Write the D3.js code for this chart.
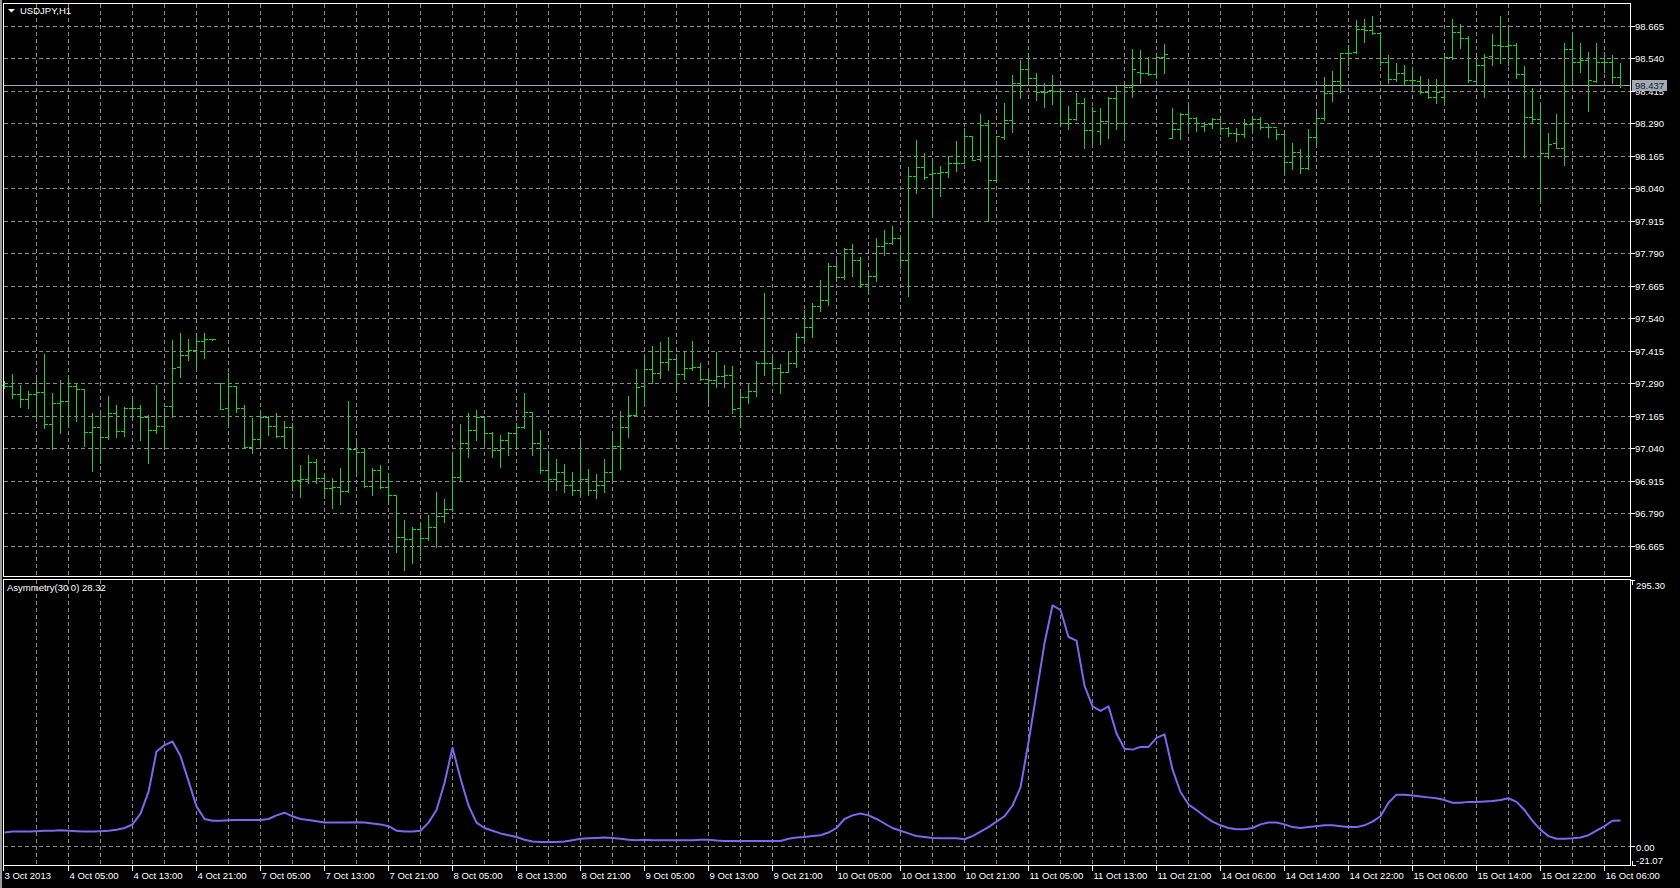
<!DOCTYPE html>
<html>
<head>
<meta charset="utf-8">
<script src="https://cdn.jsdelivr.net/npm/d3@7"></script>
<style>
  html, body { margin: 0; padding: 0; background: #000; overflow: hidden; }
  svg { display: block; }
  text { font-family: "Liberation Sans", Arial, sans-serif; font-size: 9.5px; fill: #fff; }
</style>
</head>
<body>
<svg id="chart"></svg>
<script>
// USDJPY H1 bars, 3 Oct 21:00 .. 16 Oct 08:00 (203 bars)
var opens = [97.285,97.281,97.249,97.228,97.248,97.257,97.134,97.216,97.223,97.278,
  97.267,97.102,97.120,97.085,97.175,97.107,97.194,97.194,97.162,97.111,
  97.126,97.203,97.354,97.398,97.418,97.452,97.459,97.293,97.194,97.280,
  97.194,97.043,97.075,97.159,97.126,97.087,97.123,96.918,96.921,96.989,
  96.925,96.886,96.890,96.877,97.036,97.027,96.893,96.957,96.890,96.861,
  96.698,96.690,96.729,96.694,96.736,96.780,96.805,96.931,97.059,97.111,
  97.159,97.098,97.034,97.072,97.100,97.121,97.180,97.059,96.957,96.920,
  96.950,96.900,96.880,96.920,96.880,96.900,96.950,97.050,97.123,97.168,
  97.280,97.344,97.329,97.373,97.382,97.326,97.348,97.352,97.305,97.303,
  97.318,97.322,97.194,97.236,97.262,97.367,97.367,97.348,97.335,97.370,
  97.467,97.505,97.587,97.611,97.741,97.700,97.805,97.764,97.672,97.703,
  97.818,97.829,97.848,97.764,98.087,98.123,98.095,98.098,98.104,98.139,
  98.136,98.241,98.152,98.284,98.072,98.236,98.305,98.444,98.498,98.463,
  98.412,98.418,98.416,98.293,98.309,98.369,98.264,98.259,98.300,98.389,
  98.293,98.429,98.489,98.483,98.479,98.547,98.233,98.269,98.327,98.310,
  98.280,98.288,98.306,98.271,98.255,98.250,98.288,98.306,98.278,98.275,
  98.250,98.143,98.182,98.118,98.237,98.310,98.409,98.455,98.560,98.566,
  98.652,98.650,98.637,98.528,98.460,98.483,98.457,98.455,98.412,98.393,
  98.390,98.544,98.643,98.618,98.455,98.515,98.550,98.592,98.588,98.592,
  98.480,98.316,98.306,98.175,98.216,98.195,98.575,98.528,98.534,98.455,
  98.528,98.528,98.470];
var highs = [97.300,97.326,97.284,97.261,97.305,97.403,97.252,97.303,97.321,97.293,
  97.267,97.175,97.181,97.241,97.205,97.200,97.236,97.207,97.168,97.284,
  97.194,97.457,97.482,97.459,97.480,97.482,97.460,97.293,97.328,97.280,
  97.205,97.155,97.181,97.164,97.175,97.145,97.139,96.976,97.014,96.998,
  96.946,96.925,96.963,97.222,97.066,97.040,96.963,96.976,96.946,96.861,
  96.764,96.736,96.752,96.784,96.870,96.844,97.021,97.134,97.177,97.187,
  97.164,97.104,97.091,97.104,97.136,97.252,97.181,97.111,97.030,97.000,
  96.980,96.950,97.066,96.960,96.940,97.000,97.100,97.184,97.241,97.344,
  97.395,97.434,97.448,97.467,97.389,97.412,97.454,97.367,97.341,97.412,
  97.361,97.357,97.254,97.290,97.376,97.639,97.386,97.364,97.412,97.482,
  97.572,97.600,97.687,97.752,97.764,97.809,97.826,97.777,97.720,97.848,
  97.880,97.895,97.852,98.123,98.228,98.175,98.149,98.126,98.164,98.223,
  98.271,98.241,98.328,98.303,98.241,98.367,98.476,98.534,98.553,98.485,
  98.444,98.476,98.428,98.357,98.408,98.386,98.352,98.348,98.391,98.434,
  98.434,98.575,98.573,98.547,98.550,98.596,98.348,98.332,98.357,98.314,
  98.297,98.310,98.310,98.275,98.271,98.306,98.314,98.314,98.288,98.268,
  98.250,98.214,98.191,98.268,98.332,98.470,98.493,98.562,98.592,98.688,
  98.691,98.703,98.643,98.553,98.521,98.515,98.502,98.473,98.460,98.460,
  98.550,98.691,98.673,98.627,98.550,98.557,98.634,98.703,98.662,98.598,
  98.511,98.425,98.365,98.252,98.327,98.601,98.637,98.601,98.566,98.601,
  98.566,98.553,98.524];
var lows = [97.270,97.232,97.200,97.196,97.143,97.117,97.036,97.100,97.123,97.143,
  97.050,96.954,96.985,97.075,97.085,97.087,97.152,97.072,96.985,97.100,
  97.036,97.162,97.316,97.380,97.354,97.389,97.458,97.190,97.130,97.181,
  97.040,97.021,97.053,97.091,97.085,97.046,96.882,96.854,96.905,96.905,
  96.848,96.809,96.826,96.870,96.944,96.890,96.861,96.886,96.832,96.640,
  96.570,96.600,96.630,96.687,96.660,96.758,96.800,96.918,97.008,97.072,
  97.057,97.005,96.967,97.014,97.036,97.117,97.014,96.944,96.890,96.880,
  96.870,96.860,96.860,96.860,96.850,96.870,96.920,96.960,97.085,97.164,
  97.207,97.290,97.309,97.341,97.267,97.305,97.341,97.303,97.216,97.275,
  97.277,97.175,97.123,97.216,97.241,97.322,97.284,97.254,97.335,97.354,
  97.454,97.469,97.570,97.591,97.685,97.690,97.703,97.659,97.636,97.685,
  97.784,97.826,97.732,97.626,98.021,98.075,97.937,98.011,98.085,98.108,
  98.136,98.149,98.146,97.916,98.069,98.232,98.258,98.386,98.437,98.380,
  98.354,98.364,98.280,98.267,98.305,98.194,98.211,98.211,98.233,98.269,
  98.237,98.391,98.444,98.477,98.464,98.485,98.233,98.229,98.268,98.259,
  98.262,98.271,98.250,98.242,98.224,98.237,98.262,98.268,98.237,98.229,
  98.092,98.114,98.098,98.114,98.214,98.303,98.378,98.412,98.515,98.560,
  98.605,98.634,98.515,98.447,98.455,98.442,98.421,98.406,98.387,98.370,
  98.378,98.537,98.579,98.451,98.447,98.391,98.515,98.524,98.515,98.464,
  98.162,98.291,97.986,98.156,98.195,98.130,98.442,98.489,98.336,98.451,
  98.489,98.447,98.432];
var closes = [97.281,97.249,97.228,97.248,97.257,97.134,97.213,97.223,97.278,97.267,
  97.102,97.120,97.085,97.175,97.107,97.194,97.194,97.162,97.111,97.126,
  97.203,97.348,97.398,97.418,97.452,97.459,97.459,97.190,97.280,97.194,
  97.043,97.075,97.159,97.126,97.087,97.123,96.918,96.921,96.989,96.925,
  96.886,96.890,96.877,97.036,97.027,96.893,96.957,96.890,96.861,96.698,
  96.690,96.729,96.694,96.736,96.780,96.805,96.931,97.059,97.111,97.159,
  97.098,97.034,97.072,97.100,97.121,97.180,97.059,96.957,96.920,96.950,
  96.900,96.880,96.920,96.880,96.900,96.950,97.050,97.123,97.168,97.275,
  97.344,97.329,97.373,97.382,97.326,97.348,97.352,97.305,97.303,97.318,
  97.322,97.190,97.236,97.262,97.367,97.367,97.348,97.335,97.370,97.467,
  97.505,97.587,97.611,97.741,97.700,97.805,97.764,97.672,97.703,97.818,
  97.829,97.848,97.764,98.087,98.123,98.085,98.098,98.104,98.139,98.139,
  98.241,98.149,98.284,98.072,98.241,98.305,98.444,98.498,98.463,98.412,
  98.412,98.416,98.293,98.309,98.369,98.264,98.338,98.300,98.389,98.293,
  98.429,98.498,98.483,98.479,98.547,98.557,98.269,98.327,98.310,98.293,
  98.288,98.306,98.271,98.255,98.250,98.288,98.306,98.278,98.275,98.250,
  98.143,98.182,98.118,98.237,98.310,98.409,98.455,98.560,98.562,98.652,
  98.650,98.637,98.528,98.460,98.483,98.457,98.457,98.412,98.393,98.412,
  98.544,98.643,98.618,98.457,98.515,98.547,98.592,98.588,98.592,98.480,
  98.316,98.306,98.175,98.211,98.195,98.575,98.528,98.534,98.457,98.528,
  98.528,98.470,98.437];

// Asymmetry(30 0) indicator values
var asym = [15,16,16,16,16.5,17,17,17.5,17,16.5,
  16,16,16.5,17,18,20,24,36,60,105,
  112,116,100,72,44,30,28,28,28.5,29,
  29,29,29,30,34,37,33,30,29,27.5,
  26,26,26,26,26.5,26,25,24,22,17,
  16,16,17,26,40,70,109,75,45,26,
  20,17,14,12,10,7,5,4.5,4.5,4.5,
  5,6.5,8,8.5,9,9.5,9,8,7,6.5,
  7,6.5,6.5,6.5,6.5,6.5,6.5,7,7,6,
  5.5,5.5,5.5,5.5,5.5,5.5,5.5,5.5,8,9.5,
  10,11,12,15,20,30,34,36,34,30,
  25,20,17,14,11,10,9,8.5,8.5,8.5,
  7.5,11,16,21,27,33,45,65,115,170,
  225,267,262,232,228,178,155,150,155,125,
  108,107,110,110,120,124,85,60,46,40,
  33,27,23,20,18.5,18.5,20,24,26,26,
  24,21,20,21,22,23,23,22,21,21,
  23,27,33,48,57,57,56,55,54,53,
  51,48,48,49,49,49.5,50,51,53,49,
  40,28,18,11,8,8,8.5,9.5,12,17,
  22,28,28.32];

var timeLabels = ["3 Oct 2013","4 Oct 05:00","4 Oct 13:00","4 Oct 21:00","7 Oct 05:00","7 Oct 13:00",
  "7 Oct 21:00","8 Oct 05:00","8 Oct 13:00","8 Oct 21:00","9 Oct 05:00","9 Oct 13:00","9 Oct 21:00",
  "10 Oct 05:00","10 Oct 13:00","10 Oct 21:00","11 Oct 05:00","11 Oct 13:00","11 Oct 21:00",
  "14 Oct 06:00","14 Oct 14:00","14 Oct 22:00","15 Oct 06:00","15 Oct 14:00","15 Oct 22:00","16 Oct 06:00"];
var timeLabelBars = [0,8,16,24,32,40,48,56,64,72,80,88,96,104,112,120,128,136,144,152,160,168,176,184,192,200];

var priceTicks = [96.665,96.790,96.915,97.040,97.165,97.290,97.415,97.540,97.665,97.790,97.915,98.040,98.165,98.290,98.415,98.540,98.665];
var lastPrice = 98.437;
var asymTicks = [295.30, 0.00, -21.07];

var dimensions = {
  width: 1680,
  height: 888,
  left: 3.5,
  right: 1630.5,
  mainTop: 3.5,
  mainBottom: 576.5,
  subTop: 579.5,
  subBottom: 865.5
}

var svg = d3.select("#chart")
  .attr("width", dimensions.width)
  .attr("height", dimensions.height)

svg.append("rect")
  .attr("width", dimensions.width)
  .attr("height", dimensions.height)
  .attr("fill", "#000")

// terminal window edge on the left
svg.append("rect")
  .attr("x", 0).attr("y", 0)
  .attr("width", 2).attr("height", dimensions.height)
  .attr("fill", "#9a9a9a")

var bars = opens.map(function(o, i) {
  return {i: i, o: o, h: highs[i], l: lows[i], c: closes[i]}
})

var x = d3.scaleLinear().domain([0, opens.length - 1]).range([4, 1620])
var y = d3.scaleLinear().domain([96.665, 98.665]).range([545.7, 26])
var yA = d3.scaleLinear().domain([-21.07, 295.30]).range([865, 580])

var px = function(v) { return Math.round(v) + 0.5 }

var gridColor = "#8a8a8a"

// vertical grid every 4 bars, both panels
var gridBars = d3.range(4, opens.length, 4)
var vg = svg.append("g").attr("shape-rendering", "crispEdges")
gridBars.forEach(function(i) {
  vg.append("line")
    .attr("x1", px(x(i))).attr("x2", px(x(i)))
    .attr("y1", dimensions.mainTop).attr("y2", dimensions.mainBottom)
    .attr("stroke", gridColor).attr("stroke-dasharray", "4,3")
  vg.append("line")
    .attr("x1", px(x(i))).attr("x2", px(x(i)))
    .attr("y1", dimensions.subTop).attr("y2", dimensions.subBottom)
    .attr("stroke", gridColor).attr("stroke-dasharray", "4,3")
})

// horizontal price grid
priceTicks.forEach(function(p) {
  vg.append("line")
    .attr("x1", dimensions.left).attr("x2", dimensions.right)
    .attr("y1", px(y(p))).attr("y2", px(y(p)))
    .attr("stroke", gridColor).attr("stroke-dasharray", "4,3")
})
// zero level in indicator window
vg.append("line")
  .attr("x1", dimensions.left).attr("x2", dimensions.right)
  .attr("y1", px(yA(0))).attr("y2", px(yA(0)))
  .attr("stroke", gridColor).attr("stroke-dasharray", "4,3")

// last price line
svg.append("line")
  .attr("shape-rendering", "crispEdges")
  .attr("x1", dimensions.left).attr("x2", dimensions.right)
  .attr("y1", px(y(lastPrice))).attr("y2", px(y(lastPrice)))
  .attr("stroke", "#a3a9b8")

// OHLC bars
var barColor = "#1fd11f"
var bg = svg.append("g").attr("shape-rendering", "crispEdges")
  .attr("stroke", barColor).attr("stroke-width", 1)
bars.forEach(function(d) {
  var xc = px(x(d.i))
  bg.append("line")
    .attr("x1", xc).attr("x2", xc)
    .attr("y1", Math.round(y(d.h))).attr("y2", Math.round(y(d.l)) + 1)
  bg.append("line")
    .attr("x1", xc - 3.5).attr("x2", xc)
    .attr("y1", px(y(d.o))).attr("y2", px(y(d.o)))
  bg.append("line")
    .attr("x1", xc).attr("x2", xc + 3.5)
    .attr("y1", px(y(d.c))).attr("y2", px(y(d.c)))
})

// indicator line
var line = d3.line()
  .x(function(d, i) { return x(i) + 0.5 })
  .y(function(d) { return yA(d) })
svg.append("path")
  .datum(asym)
  .attr("d", line)
  .attr("fill", "none")
  .attr("stroke", "#7b68ee")
  .attr("stroke-width", 2)
  .attr("stroke-linejoin", "round")

// window frames
var frames = svg.append("g").attr("shape-rendering", "crispEdges")
  .attr("fill", "none").attr("stroke", "#fff")
frames.append("rect")
  .attr("x", dimensions.left).attr("y", dimensions.mainTop)
  .attr("width", dimensions.right - dimensions.left)
  .attr("height", dimensions.mainBottom - dimensions.mainTop)
frames.append("rect")
  .attr("x", dimensions.left).attr("y", dimensions.subTop)
  .attr("width", dimensions.right - dimensions.left)
  .attr("height", dimensions.subBottom - dimensions.subTop)

// price axis
var axisG = svg.append("g")
priceTicks.forEach(function(p) {
  axisG.append("line")
    .attr("shape-rendering", "crispEdges")
    .attr("x1", dimensions.right).attr("x2", dimensions.right + 4)
    .attr("y1", px(y(p))).attr("y2", px(y(p)))
    .attr("stroke", "#fff")
  axisG.append("text")
    .attr("x", 1635)
    .attr("y", Math.round(y(p)) + 4)
    .text(p.toFixed(3))
})

// last price tag (drawn over the price scale, as in the terminal)
var lpY = Math.round(y(lastPrice))
axisG.append("rect")
  .attr("x", 1632).attr("y", lpY - 5)
  .attr("width", 35).attr("height", 11)
  .attr("fill", "#a3a9b8")
axisG.append("text")
  .attr("x", 1635).attr("y", lpY + 4)
  .style("fill", "#1a1a1a")
  .text(lastPrice.toFixed(3))

// indicator axis
asymTicks.forEach(function(v, k) {
  var ty = Math.round(yA(v)) + 0.5
  var mark
  if (k == 0) mark = "M" + (dimensions.right) + "," + ty + "H" + (dimensions.right + 4) + "M" + (dimensions.right + 2) + "," + ty + "V" + (ty + 4)
  else if (k == asymTicks.length - 1) mark = "M" + (dimensions.right + 2) + "," + (ty - 5) + "V" + (ty + 0) + "H" + (dimensions.right + 5)
  else mark = "M" + (dimensions.right) + "," + ty + "H" + (dimensions.right + 4)
  axisG.append("path")
    .attr("shape-rendering", "crispEdges")
    .attr("d", mark).attr("stroke", "#fff").attr("fill", "none")
  var ly = k == 0 ? ty + 8 : (k == asymTicks.length - 1 ? ty - 2 : ty + 4)
  axisG.append("text")
    .attr("x", 1636).attr("y", ly)
    .text(v.toFixed(2))
})

// time axis
timeLabels.forEach(function(t, k) {
  var tx = px(x(timeLabelBars[k]))
  if (k == 0) tx = 3.5
  axisG.append("line")
    .attr("shape-rendering", "crispEdges")
    .attr("x1", tx).attr("x2", tx)
    .attr("y1", dimensions.subBottom).attr("y2", dimensions.subBottom + 5)
    .attr("stroke", "#fff")
  axisG.append("text")
    .attr("x", tx + 1).attr("y", 879)
    .text(t)
})

// window titles
svg.append("path")
  .attr("d", "M8,9H15L11.5,12.5Z")
  .attr("fill", "#fff")
svg.append("text")
  .attr("x", 20).attr("y", 14)
  .text("USDJPY,H1")
svg.append("text")
  .attr("x", 7).attr("y", 591)
  .text("Asymmetry(30 0) 28.32")
</script>
</body>
</html>
